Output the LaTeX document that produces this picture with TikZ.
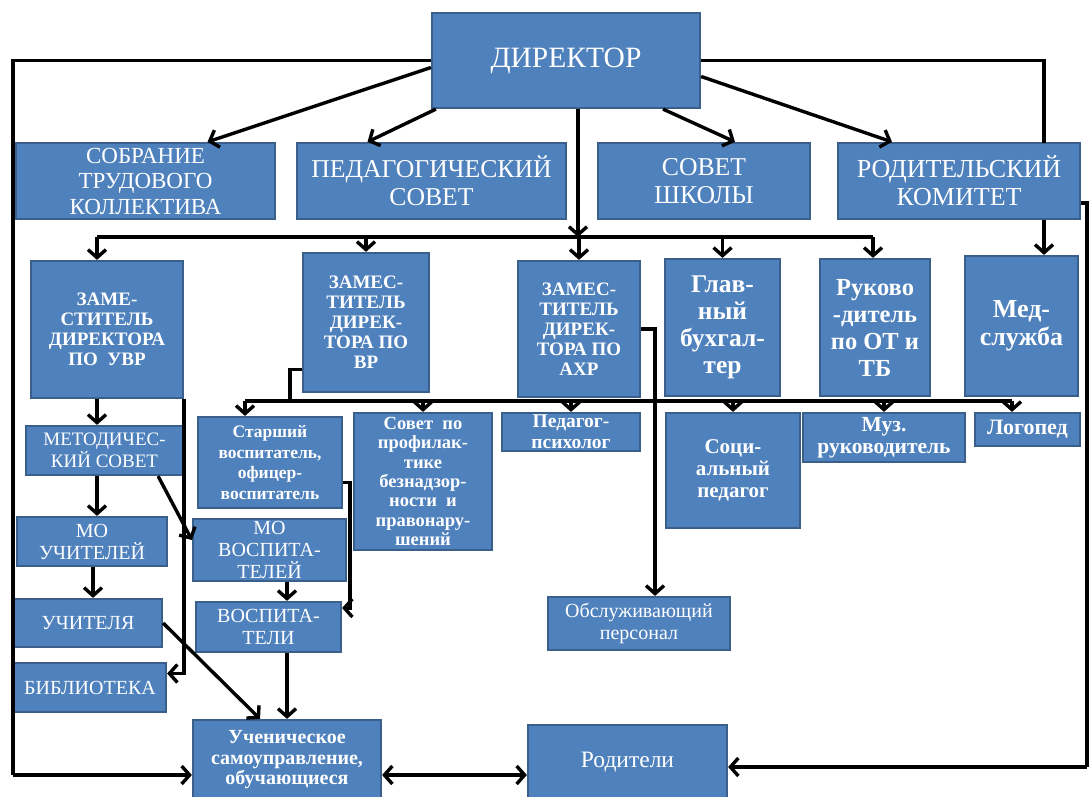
\documentclass[tikz,border=0pt]{standalone}
\usepackage{fontspec}
\setmainfont{Liberation Serif}
\usetikzlibrary{arrows.meta}
\definecolor{boxfill}{HTML}{4F81BD}
\definecolor{boxedge}{HTML}{3A5F8B}

\begin{document}
\begin{tikzpicture}[x=1pt, y=-1pt]
    \tikzstyle{org box} = [rectangle,draw=boxedge,fill=boxfill,line width=2.2pt,text=white,align=center,inner sep=1pt]
    \tikzstyle{org edge} = [draw=black, line width=3.4pt]
    \tikzstyle{org edge directed} = [org edge, ->, >={Straight Barb[length=8pt,width=18pt]}]
\useasboundingbox (0,0) rectangle (1089,796);
\fill[white] (0,0) rectangle (1089,796);
% top level
\node[org box, minimum width=268, minimum height=95, font=\fontsize{29.5}{32}\selectfont] (dir) at (566, 60.5) {ДИРЕКТОР};
\node[org box, minimum width=259, minimum height=76, font=\fontsize{23}{25.5}\selectfont] (sobr) at (145.5, 181) {СОБРАНИЕ\\ТРУДОВОГО\\КОЛЛЕКТИВА};
\node[org box, minimum width=269, minimum height=76, font=\fontsize{25.7}{28}\selectfont] (pedsov) at (431.5, 181) {ПЕДАГОГИЧЕСКИЙ\\СОВЕТ};
\node[org box, minimum width=212, minimum height=76, font=\fontsize{25.7}{28}\selectfont] (sovsh) at (704, 181) {СОВЕТ\\ШКОЛЫ};
\node[org box, minimum width=242, minimum height=76, font=\fontsize{26}{28}\selectfont] (rodkom) at (959, 181) {РОДИТЕЛЬСКИЙ\\КОМИТЕТ};
% deputies
\node[org box, minimum width=152, minimum height=137, font=\bfseries\fontsize{19}{20}\selectfont] (zamuvr) at (107, 329.5) {ЗАМЕ-\\СТИТЕЛЬ\\ДИРЕКТОРА\\ПО~~УВР};
\node[org box, minimum width=126, minimum height=139, font=\bfseries\fontsize{19}{20}\selectfont] (zamvr) at (366, 322.5) {ЗАМЕС-\\ТИТЕЛЬ\\ДИРЕК-\\ТОРА ПО\\ВР};
\node[org box, minimum width=122, minimum height=136, font=\bfseries\fontsize{19}{20}\selectfont] (zamahr) at (579, 329) {ЗАМЕС-\\ТИТЕЛЬ\\ДИРЕК-\\ТОРА ПО\\АХР};
\node[org box, minimum width=115, minimum height=137, font=\bfseries\fontsize{25.5}{27}\selectfont] (glbuh) at (722.5, 327.5) {Глав-\\ный\\бухгал-\\тер};
\node[org box, minimum width=110, minimum height=137, font=\bfseries\fontsize{24.5}{27}\selectfont] (rukot) at (875, 327.5) {Руково\\-дитель\\по ОТ и\\ТБ};
\node[org box, minimum width=113, minimum height=140, font=\bfseries\fontsize{26}{28}\selectfont] (med) at (1021.5, 326) {Мед-\\служба};
% third row
\node[org box, minimum width=157, minimum height=49, font=\fontsize{19}{22}\selectfont] (metsov) at (104.5, 450.5) {МЕТОДИЧЕС-\\КИЙ СОВЕТ};
\node[org box, minimum width=144, minimum height=91, font=\bfseries\fontsize{17.5}{20.5}\selectfont] (starsh) at (270, 462.5) {Старший\\воспитатель,\\офицер-\\воспитатель};
\node[org box, minimum width=138, minimum height=137, font=\bfseries\fontsize{18.5}{19.4}\selectfont] (profil) at (423, 481.5) {Совет~~по\\профилак-\\тике\\безнадзор-\\ности~~и\\правонару-\\шений};
\node[org box, minimum width=138, minimum height=38, font=\bfseries\fontsize{19.5}{21}\selectfont] (psih) at (571, 432) {Педагог-\\психолог};
\node[org box, minimum width=134, minimum height=115, font=\bfseries\fontsize{21}{22}\selectfont] (socped) at (733, 470.5) {Соци-\\альный\\педагог};
\node[org box, minimum width=162, minimum height=49, font=\bfseries\fontsize{21.5}{22}\selectfont] (muz) at (884, 437.5) {Муз.\\руководитель};
\node[org box, minimum width=105, minimum height=33, font=\bfseries\fontsize{22}{22}\selectfont] (logop) at (1027.5, 429.5) {Логопед};
% lower boxes
\node[org box, minimum width=150, minimum height=49, font=\fontsize{20}{22}\selectfont] (mouch) at (92, 541.5) {МО\\УЧИТЕЛЕЙ};
\node[org box, minimum width=153, minimum height=62, font=\fontsize{20}{22}\selectfont] (movosp) at (269.5, 550) {МО\\ВОСПИТА-\\ТЕЛЕЙ};
\node[org box, minimum width=148, minimum height=48, font=\fontsize{20}{22}\selectfont] (uchit) at (88, 623) {УЧИТЕЛЯ};
\node[org box, minimum width=145, minimum height=50, font=\fontsize{20}{22}\selectfont] (vosp) at (268.5, 627) {ВОСПИТА-\\ТЕЛИ};
\node[org box, minimum width=152, minimum height=49, font=\fontsize{20}{22}\selectfont] (bibl) at (90, 687.5) {БИБЛИОТЕКА};
\node[org box, minimum width=182, minimum height=53, font=\fontsize{20}{22}\selectfont] (obsl) at (639, 623.5) {Обслуживающий\\персонал};
\node[org box, minimum width=188, minimum height=80, font=\bfseries\fontsize{20}{20.5}\selectfont] (uchen) at (287, 760) {Ученическое\\самоуправление,\\обучающиеся};
\node[org box, minimum width=199, minimum height=75, font=\fontsize{23.5}{26}\selectfont] (rodit) at (627.5, 762.5) {Родители};
% helper points
\coordinate (busL) at (97, 237);
\coordinate (busR) at (873, 237);
\coordinate (bus2L) at (245, 401);
\coordinate (bus2R) at (1012, 401);
\coordinate (medtop) at (1044, 143);
\coordinate (leftbot) at (13, 775);
\coordinate (rightbot) at (1087, 767);
% director links
\draw[org edge directed] ([yshift=-7]dir.west) to ([xshift=62]sobr.north);
\draw[org edge directed] ([xshift=5]dir.south west) to ([xshift=-64]pedsov.north);
\draw[org edge directed] ([xshift=97]dir.south) to ([xshift=31]sovsh.north);
\draw[org edge directed] ([yshift=-16]dir.east) to ([xshift=-67]rodkom.north);
\draw[org edge directed] ([xshift=12]dir.south) to ([xshift=12]dir.south |- busL);
\draw[org edge] (dir.west) -| (leftbot);
\draw[org edge directed] (leftbot) to (uchen.west |- leftbot);
\draw[org edge] (dir.east) -| (medtop);
\draw[org edge directed] (medtop |- rodkom.south) to (medtop |- med.north);
\draw[org edge] ([yshift=-22]rodkom.east) -| (rightbot);
\draw[org edge directed] (rightbot) to (rodit.east |- rightbot);
% first bus
\draw[org edge] (busL) to (busR);
\draw[org edge directed] (busL) to (busL |- zamuvr.north);
\draw[org edge directed] (zamvr.north |- busL) to (zamvr.north);
\draw[org edge directed] (zamahr.north |- busL) to (zamahr.north);
\draw[org edge directed] (glbuh.north |- busL) to (glbuh.north);
\draw[org edge directed] (busR) to (busR |- rukot.north);
% second bus
\draw[org edge] ([yshift=-47]zamvr.west) -| (bus2L -| 290, 0);
\draw[org edge] (bus2L) to (bus2R);
\draw[org edge directed] (bus2L) to (bus2L |- starsh.north);
\draw[org edge directed] (profil.north |- bus2L) to (profil.north);
\draw[org edge directed] (psih.north |- bus2L) to (psih.north);
\draw[org edge directed] (socped.north |- bus2L) to (socped.north);
\draw[org edge directed] (muz.north |- bus2L) to (muz.north);
\draw[org edge directed] (bus2R) to (bus2R |- logop.north);
\draw[org edge directed] (zamahr.east) -| ([xshift=16]obsl.north);
% left branch
\draw[org edge directed] (busL |- zamuvr.south) to (busL |- metsov.north);
\draw[org edge directed] (busL |- metsov.south) to (busL |- mouch.north);
\draw[org edge directed] ([xshift=1]mouch.south) to ([xshift=1]mouch.south |- uchit.north);
\draw[org edge directed] ([xshift=-26]metsov.south east) to ([yshift=10]movosp.west);
\draw[org edge directed] (zamuvr.south east) |- ([yshift=14]bibl.east);
\draw[org edge directed] ([yshift=-20]starsh.east) -- ++(7,0) |- ([yshift=19]vosp.east);
\draw[org edge directed] (movosp.south -| uchen.north) to (vosp.north -| uchen.north);
\draw[org edge directed] (vosp.south -| uchen.north) to (uchen.north);
\draw[org edge directed] (uchit.east) to ([xshift=-27]uchen.north);
\draw[org edge, {Straight Barb[length=8pt,width=18pt]}-{Straight Barb[length=8pt,width=18pt]}] ([yshift=-15]uchen.east) to ([yshift=-15]uchen.east -| rodit.west);
\end{tikzpicture}
\end{document}
